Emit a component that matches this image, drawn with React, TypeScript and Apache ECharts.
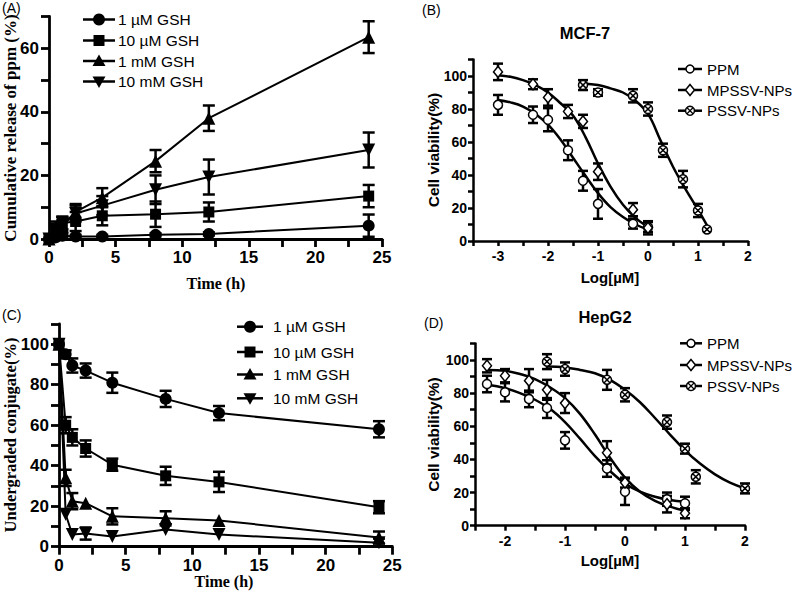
import React, { useEffect, useRef } from "react";
import * as echarts from "echarts";

// ---------- Panel A: cumulative release ----------
const timeA = [0, 0.5, 1, 2, 4, 8, 12, 24];
const gshNames = ["1 µM GSH", "10 µM GSH", "1 mM GSH", "10 mM GSH"];
const relA1uM = [0, 0.5, 1, 0.8, 0.8, 1.3, 1.6, 4.2];
const relA10uM = [0, 3.5, 5, 5.5, 7.3, 7.8, 8.5, 13.5];
const relA1mM = [0, 2, 4, 8.5, 13, 24.5, 38, 63.5];
const relA10mM = [0, 3, 5, 8, 10.5, 15.5, 19.5, 28];
const errA1uM = [0, 0.5, 0.5, 0.5, 0.5, 0.5, 0.5, 3.5];
const errA10uM = [0, 2, 2, 3, 3, 4, 3, 3.5];
const errA1mM = [0, 1.5, 2, 2.5, 3, 3.5, 4, 5];
const errA10mM = [0, 1.5, 2, 2.5, 3, 4.5, 5.5, 5.5];

// ---------- Panel C: undegraded conjugate ----------
const timeC = [0, 0.5, 1, 2, 4, 8, 12, 24];
const undC1uM = [100, 95, 89.5, 87, 81, 73, 66, 58];
const undC10uM = [100, 60, 54, 48.5, 40.5, 35, 32, 19.5];
const undC1mM = [100, 34, 22.5, 21.5, 15, 14, 13, 4.5];
const undC10mM = [100, 16, 6, 6.5, 5, 8.5, 6, 2];
const errC1uM = [0, 2, 3.5, 3.5, 5, 4, 3.5, 4];
const errC10uM = [0, 4, 4, 4, 3, 4.5, 5, 3];
const errC1mM = [0, 4, 4, 0, 4, 3.5, 0, 3];
const errC10mM = [0, 0, 0, 3, 0, 0, 0, 2];

// ---------- Panel B: MCF-7 ----------
const cellNames = ["PPM", "MPSSV-NPs", "PSSV-NPs"];
const logB = [-3, -2.3, -2, -1.6, -1.3, -1, -0.3, 0];
const ppmB = [82.5, 76.5, 73.5, 55, 36.5, 22.5, 10.5, 8.5];
const ppmBErr = [6, 5, 7, 6, 6, 9, 3, 3];
const mpB = [102.5, 95, 87, 78.5, 72.5, 42, 19, 8];
const mpBErr = [5, 3, 5, 4, 4, 5, 4, 4];
const logBp = [-1.3, -1, -0.3, 0, 0.3, 0.7, 1, 1.18];
const psB = [94.5, 90, 88, 80, 55, 37.5, 18.5, 7];
const psBErr = [3, 2, 4, 4, 4, 5, 4, 0];
const curveBx = [-3, -2.75, -2.5, -2.25, -2, -1.75, -1.5, -1.25, -1, -0.75, -0.5, -0.25, 0];
const ppmCurveB = [85.5, 84, 81.5, 77, 70.5, 61.5, 50.5, 39.5, 29, 20.5, 14.5, 10, 7];
const mpCurveB = [100.5, 99.5, 97.5, 94.5, 90, 83.5, 76, 63, 47, 33, 22, 14, 8.5];
const curveBpx = [-1.3, -1, -0.75, -0.5, -0.25, 0, 0.25, 0.5, 0.75, 1, 1.18];
const psCurveB = [95.5, 94.5, 92.5, 90, 85, 77, 61, 45, 31.5, 19, 9.5];

// ---------- Panel D: HepG2 ----------
const logD = [-2.3, -2, -1.6, -1.3, -1, -0.3, 0, 0.7, 1];
const ppmD = [85.5, 80.5, 76.5, 71, 51.5, 34.5, 20.5, 16, 13.5];
const ppmDErr = [5, 5.5, 5, 6, 5, 5, 8, 4, 4];
const mpD = [96.5, 90.5, 87.5, 82, 74, 44, 26, 13, 7.5];
const mpDErr = [4, 4, 7, 6, 6, 7, 3, 5, 3];
const logDp = [-1.3, -1, -0.3, 0, 0.7, 1, 1.18, 2];
const psD = [99, 94.5, 88, 79, 62.5, 46.5, 29.5, 22.5];
const psDErr = [4.5, 4, 6, 4, 4, 3, 4, 3];
const curveDx = [-2.3, -2, -1.75, -1.5, -1.25, -1, -0.75, -0.5, -0.25, 0, 0.25, 0.5, 0.75, 1];
const ppmCurveD = [85, 83, 80, 76, 70.5, 62.5, 52.5, 42, 33, 25.5, 20.5, 17.5, 15.5, 14.5];
const mpCurveD = [94, 93.5, 91.5, 88.5, 83.5, 77, 67.5, 55, 41, 29, 20.5, 15, 11.5, 9];
const curveDpx = [-1.3, -1, -0.75, -0.5, -0.25, 0, 0.25, 0.5, 0.75, 1, 1.25, 1.5, 1.75, 2];
const psCurveD = [96, 95.5, 94, 92, 88, 82, 74.5, 65, 55, 45.5, 37.5, 31, 26, 22.5];

const BLACK = "#000";
const SANS = "Liberation Sans, Arial, sans-serif";
const SERIF = "Liberation Serif, Times New Roman, serif";
const CIRCLE_X =
  "path://M5,0 A5,5 0 1,1 5,10 A5,5 0 1,1 5,0 Z M1.6,1.6 L8.4,8.4 M8.4,1.6 L1.6,8.4";

function isMajor(v: number, step: number) {
  const r = v / step;
  return Math.abs(r - Math.round(r)) < 1e-6;
}

function axis(gi: number, min: number, max: number, interval: number, labelStep: number,
  fontSize: number, lw: number, tickLen: number, margin: number) {
  return {
    type: "value", gridIndex: gi, min, max, interval,
    axisLine: { show: true, onZero: false, lineStyle: { color: BLACK, width: lw } },
    axisTick: { show: true, length: tickLen, lineStyle: { color: BLACK, width: lw } },
    axisLabel: {
      formatter: (v: number) => (isMajor(v, labelStep) ? String(Math.round(v * 100) / 100) : ""),
      fontFamily: SANS, fontWeight: "bold", fontSize, color: BLACK, margin,
    },
    splitLine: { show: false },
  };
}

function errSeries(ai: number, xs: number[], ys: number[], es: number[], cap: number, lw: number) {
  const data: number[][] = [];
  xs.forEach((x, i) => {
    if (es[i] > 0) data.push([x, ys[i] - es[i], ys[i] + es[i]]);
  });
  return {
    type: "custom", xAxisIndex: ai, yAxisIndex: ai, silent: true, z: 3,
    data,
    encode: { x: 0, y: [1, 2] },
    renderItem: (_p: any, api: any) => {
      const lo = api.coord([api.value(0), api.value(1)]);
      const hi = api.coord([api.value(0), api.value(2)]);
      const style = { stroke: BLACK, lineWidth: lw, fill: null };
      return {
        type: "group",
        children: [
          { type: "line", shape: { x1: lo[0], y1: lo[1], x2: hi[0], y2: hi[1] }, style },
          { type: "line", shape: { x1: lo[0] - cap, y1: lo[1], x2: lo[0] + cap, y2: lo[1] }, style },
          { type: "line", shape: { x1: hi[0] - cap, y1: hi[1], x2: hi[0] + cap, y2: hi[1] }, style },
        ],
      };
    },
  };
}

function lineMarks(ai: number, xs: number[], ys: number[], name: string, symbol: string,
  size: number, rotate = 0) {
  return {
    type: "line", name, xAxisIndex: ai, yAxisIndex: ai, z: 4, clip: false,
    data: xs.map((x, i) => [x, ys[i]]),
    symbol, symbolSize: size, symbolRotate: rotate, showSymbol: true,
    itemStyle: { color: BLACK },
    lineStyle: { color: BLACK, width: 2 },
  };
}

function openMarks(ai: number, xs: number[], ys: number[], name: string, symbol: string, size: any) {
  return {
    type: "scatter", name, xAxisIndex: ai, yAxisIndex: ai, z: 5, clip: false,
    data: xs.map((x, i) => [x, ys[i]]),
    symbol, symbolSize: size,
    itemStyle: { color: "#fff", borderColor: BLACK, borderWidth: 1.5, opacity: 1 },
  };
}

function curve(ai: number, xs: number[], ys: number[]) {
  return {
    type: "line", xAxisIndex: ai, yAxisIndex: ai, z: 2, silent: true,
    data: xs.map((x, i) => [x, ys[i]]),
    symbol: "none", smooth: 0.4,
    lineStyle: { color: BLACK, width: 2.5 },
  };
}

function text(x: number, y: number, t: string, size: number, family: string, weight: string,
  align = "left", rotation = 0) {
  return {
    type: "text", x, y, rotation, z: 10,
    style: { text: t, fill: BLACK, fontSize: size, fontFamily: family, fontWeight: weight,
      textAlign: align, textVerticalAlign: "middle" },
  };
}

function legendSym(kind: string, x: number, y: number): any[] {
  const f = { fill: BLACK };
  const o = { fill: "#fff", stroke: BLACK, lineWidth: 1.5 };
  switch (kind) {
    case "fcircle": return [{ type: "circle", shape: { cx: x, cy: y, r: 6 }, style: f, z: 11 }];
    case "frect": return [{ type: "rect", shape: { x: x - 5.5, y: y - 5.5, width: 11, height: 11 }, style: f, z: 11 }];
    case "ftri": return [{ type: "polygon", shape: { points: [[x, y - 6.5], [x + 6.5, y + 5], [x - 6.5, y + 5]] }, style: f, z: 11 }];
    case "ftrid": return [{ type: "polygon", shape: { points: [[x, y + 6.5], [x + 6.5, y - 5], [x - 6.5, y - 5]] }, style: f, z: 11 }];
    case "ocircle": return [{ type: "circle", shape: { cx: x, cy: y, r: 4 }, style: o, z: 11 }];
    case "odiamond": return [{ type: "polygon", shape: { points: [[x, y - 5.5], [x + 4.5, y], [x, y + 5.5], [x - 4.5, y]] }, style: o, z: 11 }];
    default: return [
      { type: "circle", shape: { cx: x, cy: y, r: 4.5 }, style: o, z: 11 },
      { type: "line", shape: { x1: x - 3, y1: y - 3, x2: x + 3, y2: y + 3 }, style: { stroke: BLACK, lineWidth: 1.3 }, z: 12 },
      { type: "line", shape: { x1: x + 3, y1: y - 3, x2: x - 3, y2: y + 3 }, style: { stroke: BLACK, lineWidth: 1.3 }, z: 12 },
    ];
  }
}

function legend(names: string[], kinds: string[], x1: number, x2: number, tx: number,
  ys: number[], size: number): any[] {
  const out: any[] = [];
  names.forEach((n, i) => {
    const y = ys[i];
    out.push({ type: "line", shape: { x1, y1: y, x2, y2: y }, style: { stroke: BLACK, lineWidth: 2.5 }, z: 10 });
    out.push(...legendSym(kinds[i], (x1 + x2) / 2, y));
    out.push(text(tx, y, n, size, SANS, "normal"));
  });
  return out;
}

export default function App() {
  const ref = useRef<HTMLDivElement>(null);
  useEffect(() => {
    if (!ref.current) return;
    const chart = echarts.init(ref.current, null, { renderer: "svg" });
    const gshKinds = ["fcircle", "frect", "ftri", "ftrid"];
    const cellKinds = ["ocircle", "odiamond", "ocirclex"];
    const option: any = {
      animation: false,
      backgroundColor: "#fff",
      grid: [
        { left: 49, top: 16.5, width: 333, height: 222.5 },
        { left: 473, top: 59.5, width: 275, height: 181.5 },
        { left: 59, top: 324, width: 333.3, height: 222.7 },
        { left: 475, top: 343.4, width: 270, height: 182.3 },
      ],
      xAxis: [
        axis(0, 0, 25, 2.5, 5, 17, 2.8, 8, 10),
        axis(1, -3.5, 2, 0.5, 1, 14, 2.5, 5, 8),
        axis(2, 0, 25, 2.5, 5, 17, 2.8, 8, 10),
        axis(3, -2.5, 2, 0.5, 1, 14, 2.5, 5, 8),
      ],
      yAxis: [
        axis(0, 0, 70, 10, 20, 17, 2.8, 8, 10),
        axis(1, 0, 110, 10, 20, 14, 2.5, 5, 6),
        axis(2, 0, 110, 10, 20, 17, 2.8, 8, 10),
        axis(3, 0, 110, 10, 20, 14, 2.5, 5, 6),
      ],
      series: [
        // Panel A
        errSeries(0, timeA, relA1uM, errA1uM, 6, 2.5),
        errSeries(0, timeA, relA10uM, errA10uM, 6, 2.5),
        errSeries(0, timeA, relA1mM, errA1mM, 6, 2.5),
        errSeries(0, timeA, relA10mM, errA10mM, 6, 2.5),
        lineMarks(0, timeA, relA1uM, gshNames[0], "circle", 12),
        lineMarks(0, timeA, relA10uM, gshNames[1], "rect", 11),
        lineMarks(0, timeA, relA1mM, gshNames[2], "triangle", 13),
        lineMarks(0, timeA, relA10mM, gshNames[3], "triangle", 13, 180),
        // Panel C
        errSeries(2, timeC, undC1uM, errC1uM, 6, 2.5),
        errSeries(2, timeC, undC10uM, errC10uM, 6, 2.5),
        errSeries(2, timeC, undC1mM, errC1mM, 6, 2.5),
        errSeries(2, timeC, undC10mM, errC10mM, 6, 2.5),
        lineMarks(2, timeC, undC1uM, gshNames[0], "circle", 12),
        lineMarks(2, timeC, undC10uM, gshNames[1], "rect", 11),
        lineMarks(2, timeC, undC1mM, gshNames[2], "triangle", 13),
        lineMarks(2, timeC, undC10mM, gshNames[3], "triangle", 13, 180),
        // Panel B
        curve(1, curveBx, ppmCurveB),
        curve(1, curveBx, mpCurveB),
        curve(1, curveBpx, psCurveB),
        errSeries(1, logB, ppmB, ppmBErr, 5, 2.5),
        errSeries(1, logB, mpB, mpBErr, 5, 2.5),
        errSeries(1, logBp, psB, psBErr, 5, 2.5),
        openMarks(1, logB, ppmB, cellNames[0], "circle", 9),
        openMarks(1, logB, mpB, cellNames[1], "diamond", [9, 11]),
        openMarks(1, logBp, psB, cellNames[2], CIRCLE_X, 9),
        // Panel D
        curve(3, curveDx, ppmCurveD),
        curve(3, curveDx, mpCurveD),
        curve(3, curveDpx, psCurveD),
        errSeries(3, logD, ppmD, ppmDErr, 5, 2.5),
        errSeries(3, logD, mpD, mpDErr, 5, 2.5),
        errSeries(3, logDp, psD, psDErr, 5, 2.5),
        openMarks(3, logD, ppmD, cellNames[0], "circle", 9),
        openMarks(3, logD, mpD, cellNames[1], "diamond", [9, 11]),
        openMarks(3, logDp, psD, cellNames[2], CIRCLE_X, 9),
      ],
      graphic: [
        text(2, 8, "(A)", 14, SANS, "normal"),
        text(422, 10, "(B)", 14, SANS, "normal"),
        text(2, 315, "(C)", 14, SANS, "normal"),
        text(424, 323, "(D)", 14, SANS, "normal"),
        text(216, 283, "Time (h)", 16, SERIF, "bold", "center"),
        text(224, 581, "Time (h)", 16, SERIF, "bold", "center"),
        text(10.5, 128, "Cumulative release of ppm (%)", 17, SERIF, "bold", "center", Math.PI / 2),
        text(10.5, 435, "Undergraded conjugate(%)", 16.5, SERIF, "bold", "center", Math.PI / 2),
        text(585, 33, "MCF-7", 16.5, SANS, "bold", "center"),
        text(605, 317, "HepG2", 16.5, SANS, "bold", "center"),
        text(433, 150, "Cell viability(%)", 15.5, SANS, "bold", "center", Math.PI / 2),
        text(433, 434.5, "Cell viability(%)", 15.5, SANS, "bold", "center", Math.PI / 2),
        text(610, 277, "Log[µM]", 15, SANS, "bold", "center"),
        text(610, 560, "Log[µM]", 15, SANS, "bold", "center"),
        ...legend(gshNames, gshKinds, 83, 115, 118, [19.5, 40.5, 61, 81.5], 15.5),
        ...legend(gshNames, gshKinds, 237, 263, 273, [326.7, 352, 374.5, 398.3], 15.5),
        ...legend(cellNames, cellKinds, 678, 702, 707, [69, 90, 110.7], 15),
        ...legend(cellNames, cellKinds, 680, 702, 707, [343.3, 365, 386], 15),
      ],
    };
    chart.setOption(option);
    return () => chart.dispose();
  }, []);
  return (
    <div
      ref={ref}
      style={{ position: "fixed", left: 0, top: 0, width: 800, height: 599, background: "#fff" }}
    />
  );
}
